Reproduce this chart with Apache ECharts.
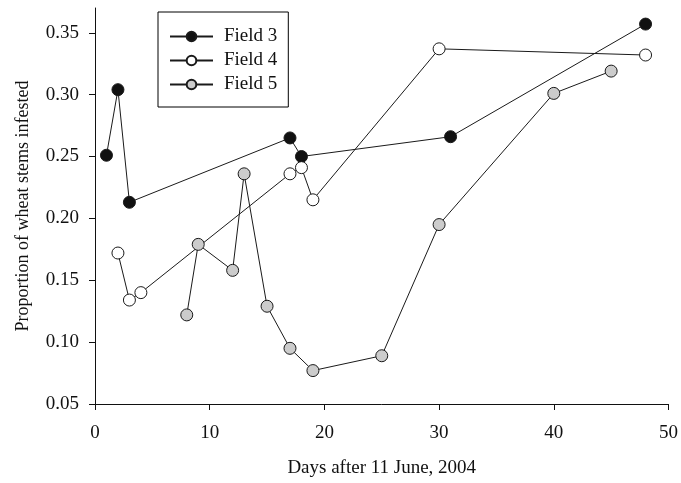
<!DOCTYPE html>
<html>
<head>
<meta charset="utf-8">
<script src="https://cdn.jsdelivr.net/npm/echarts@6/dist/echarts.min.js"></script>
<style>html,body{margin:0;padding:0;background:#fff;}#c{width:681px;height:483px;}</style>
</head>
<body>
<div id="c"></div>
<script>
var field3X = [1, 2, 3, 17, 18, 31, 48];
var field3Y = [0.251, 0.304, 0.213, 0.265, 0.250, 0.266, 0.357];
var field4X = [2, 3, 4, 17, 18, 19, 30, 48];
var field4Y = [0.172, 0.134, 0.140, 0.236, 0.241, 0.215, 0.337, 0.332];
var field5X = [8, 9, 12, 13, 15, 17, 19, 25, 30, 40, 45];
var field5Y = [0.122, 0.179, 0.158, 0.236, 0.129, 0.095, 0.077, 0.089, 0.195, 0.301, 0.319];
var xTicks = [0, 10, 20, 30, 40, 50];
var yTicks = [0.05, 0.10, 0.15, 0.20, 0.25, 0.30, 0.35];
var seriesNames = ['Field 3', 'Field 4', 'Field 5'];

function pairs(xs, ys) { return xs.map(function (x, i) { return [x, ys[i]]; }); }

var font = 'Liberation Serif';
var fs = 19;
var fills = ['#111111', '#ffffff', '#cccccc'];
var data = [pairs(field3X, field3Y), pairs(field4X, field4Y), pairs(field5X, field5Y)];

var chart = echarts.init(document.getElementById('c'), null, {renderer: 'canvas'});
chart.setOption({
  animation: false,
  backgroundColor: '#ffffff',
  textStyle: {fontFamily: font},
  grid: {left: 95, right: 10, top: 8, bottom: 73, containLabel: false},
  legend: {
    left: 158, top: 12, orient: 'vertical',
    borderColor: '#000', borderWidth: 1, padding: [15, 11, 13, 11],
    itemWidth: 43, itemHeight: 12, itemGap: 5,
    textStyle: {fontFamily: font, fontSize: fs, color: '#111', padding: [0, 0, 0, 6]},
    data: seriesNames
  },
  xAxis: {
    type: 'value', min: 0, max: 50, interval: 10,
    name: 'Days after 11 June, 2004', nameLocation: 'middle', nameGap: 55,
    nameTextStyle: {fontFamily: font, fontSize: fs, color: '#111'},
    axisLine: {show: true, lineStyle: {color: '#111', width: 1}},
    axisTick: {show: true, length: 6, lineStyle: {color: '#111'}, customValues: xTicks},
    axisLabel: {fontFamily: font, fontSize: fs, color: '#111', margin: 20, customValues: xTicks},
    splitLine: {show: false}
  },
  yAxis: {
    type: 'value', min: 0.05, max: 0.37,
    name: 'Proportion of wheat stems infested', nameLocation: 'middle', nameGap: 63,
    nameTextStyle: {fontFamily: font, fontSize: 18, color: '#111'},
    axisLine: {show: true, lineStyle: {color: '#111', width: 1}},
    axisTick: {show: true, length: 6, lineStyle: {color: '#111'}, customValues: yTicks},
    axisLabel: {fontFamily: font, fontSize: fs, color: '#111', margin: 16, customValues: yTicks,
      formatter: function (v) { return v.toFixed(2); }},
    splitLine: {show: false}
  },
  series: seriesNames.map(function (n, i) {
    return {
      name: n, type: 'line', data: data[i],
      symbol: 'circle', symbolSize: 12, showSymbol: true,
      lineStyle: {color: '#1a1a1a', width: 1},
      itemStyle: {color: fills[i], borderColor: '#1a1a1a', borderWidth: 1}
    };
  })
});
</script>
</body>
</html>
